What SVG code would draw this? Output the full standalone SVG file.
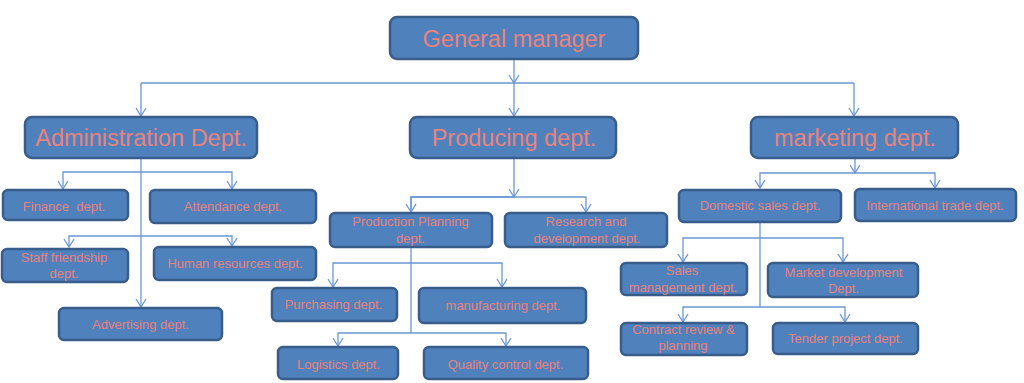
<svg xmlns="http://www.w3.org/2000/svg" width="1024" height="383" viewBox="0 0 1024 383">
<style>
.box{fill:#4F81BD;stroke:#385D8A;stroke-width:2.5}
.big{font-family:"Liberation Sans",Arial,sans-serif;font-size:23.5px;fill:#E8837D;text-anchor:middle}
.sm{font-family:"Liberation Sans",Arial,sans-serif;font-size:13px;fill:#E8837D;text-anchor:middle}
.con{fill:none;stroke:#6A97D2;stroke-width:1.3}
</style>
<defs>
<marker id="arr" markerUnits="userSpaceOnUse" markerWidth="14" markerHeight="14" viewBox="-10 -7 12 14" refX="0" refY="0" orient="auto" overflow="visible">
<path d="M-8,-5 L0,0 L-8,5" fill="none" stroke="#6A97D2" stroke-width="1.3"/>
</marker>
</defs>
<rect width="1024" height="383" fill="#FFFFFF"/>
<g id="connectors">
<path class="con" d="M514,60 V83" marker-end="url(#arr)"/>
<path class="con" d="M141,83 H854"/>
<path class="con" d="M141,83 V116" marker-end="url(#arr)"/>
<path class="con" d="M514,83 V116" marker-end="url(#arr)"/>
<path class="con" d="M854,83 V116" marker-end="url(#arr)"/>
<path class="con" d="M141,158 V307" marker-end="url(#arr)"/>
<path class="con" d="M141,172 H63 V189" marker-end="url(#arr)"/>
<path class="con" d="M141,172 H232 V189" marker-end="url(#arr)"/>
<path class="con" d="M141,236 H69 V247" marker-end="url(#arr)"/>
<path class="con" d="M141,236 H232 V246" marker-end="url(#arr)"/>
<path class="con" d="M514,158 V197" marker-end="url(#arr)"/>
<path class="con" d="M411,212 V197 H586 V212" marker-end="url(#arr)"/>
<path class="con" d="M514,197 H411 V212" marker-end="url(#arr)"/>
<path class="con" d="M411,247 V333"/>
<path class="con" d="M411,263 H333 V287" marker-end="url(#arr)"/>
<path class="con" d="M411,263 H502 V287" marker-end="url(#arr)"/>
<path class="con" d="M411,333 H338 V346" marker-end="url(#arr)"/>
<path class="con" d="M411,333 H506 V346" marker-end="url(#arr)"/>
<path class="con" d="M855,158 V173" marker-end="url(#arr)"/>
<path class="con" d="M855,173 H760 V188" marker-end="url(#arr)"/>
<path class="con" d="M855,173 H935 V188" marker-end="url(#arr)"/>
<path class="con" d="M760,222 V307"/>
<path class="con" d="M760,238 H683 V262" marker-end="url(#arr)"/>
<path class="con" d="M760,238 H843 V262" marker-end="url(#arr)"/>
<path class="con" d="M760,307 H683 V322" marker-end="url(#arr)"/>
<path class="con" d="M760,307 H845 V322" marker-end="url(#arr)"/>
</g>
<g id="general-manager">
<rect class="box" x="390" y="17" width="248" height="42" rx="7"/>
<text class="big" x="514" y="47">General manager</text>
</g>
<g id="administration">
<rect class="box" x="25" y="117" width="232" height="41" rx="7"/>
<text class="big" x="141" y="146">Administration Dept.</text>
</g>
<g id="producing">
<rect class="box" x="410" y="117" width="206" height="41" rx="7"/>
<text class="big" x="514" y="146">Producing dept.</text>
</g>
<g id="marketing">
<rect class="box" x="751" y="117" width="207" height="41" rx="7"/>
<text class="big" x="855" y="146">marketing dept.</text>
</g>
<g id="finance">
<rect class="box" x="3" y="190" width="125" height="30" rx="5"/>
<text class="sm" x="64" y="211" xml:space="preserve">Finance  dept.</text>
</g>
<g id="attendance">
<rect class="box" x="150" y="190" width="166" height="33" rx="5"/>
<text class="sm" x="233" y="211">Attendance dept.</text>
</g>
<g id="staff-friendship">
<rect class="box" x="2" y="249" width="126" height="33" rx="5"/>
<text class="sm" x="64" y="262">Staff friendship</text>
<text class="sm" x="64" y="278">dept.</text>
</g>
<g id="human-resources">
<rect class="box" x="154" y="247" width="162" height="33" rx="5"/>
<text class="sm" x="235" y="268">Human resources dept.</text>
</g>
<g id="advertising">
<rect class="box" x="59" y="308" width="163" height="32" rx="5"/>
<text class="sm" x="140.5" y="329">Advertising dept.</text>
</g>
<g id="production-planning">
<rect class="box" x="330" y="213" width="162" height="34" rx="5"/>
<text class="sm" x="410.5" y="226">Production Planning</text>
<text class="sm" x="410.5" y="243">dept.</text>
</g>
<g id="research">
<rect class="box" x="505" y="213" width="162" height="34" rx="5"/>
<text class="sm" x="586" y="226">Research and</text>
<text class="sm" x="587" y="243">development dept.</text>
</g>
<g id="purchasing">
<rect class="box" x="272" y="288" width="125" height="33" rx="5"/>
<text class="sm" x="333.5" y="309">Purchasing dept.</text>
</g>
<g id="manufacturing">
<rect class="box" x="419" y="288" width="167" height="35" rx="5"/>
<text class="sm" x="503" y="310">manufacturing dept.</text>
</g>
<g id="logistics">
<rect class="box" x="278" y="347" width="120" height="32" rx="5"/>
<text class="sm" x="338.5" y="369">Logistics dept.</text>
</g>
<g id="quality-control">
<rect class="box" x="424" y="347" width="164" height="32" rx="5"/>
<text class="sm" x="505.5" y="369">Quality control dept.</text>
</g>
<g id="domestic-sales">
<rect class="box" x="679" y="190" width="162" height="32" rx="5"/>
<text class="sm" x="760" y="210">Domestic sales dept.</text>
</g>
<g id="international-trade">
<rect class="box" x="855" y="189" width="161" height="32" rx="5"/>
<text class="sm" x="935" y="210">International trade dept.</text>
</g>
<g id="sales-management">
<rect class="box" x="621" y="263" width="126" height="32" rx="5"/>
<text class="sm" x="682" y="275">Sales</text>
<text class="sm" x="683" y="292">management dept.</text>
</g>
<g id="market-development">
<rect class="box" x="768" y="263" width="150" height="34" rx="5"/>
<text class="sm" x="843.5" y="277">Market development</text>
<text class="sm" x="843.5" y="293">Dept.</text>
</g>
<g id="contract-review">
<rect class="box" x="621" y="323" width="126" height="32" rx="5"/>
<text class="sm" x="683.5" y="334">Contract review &amp;</text>
<text class="sm" x="683" y="350">planning</text>
</g>
<g id="tender-project">
<rect class="box" x="773" y="323" width="145" height="31" rx="5"/>
<text class="sm" x="845.5" y="343">Tender project dept.</text>
</g>
</svg>
